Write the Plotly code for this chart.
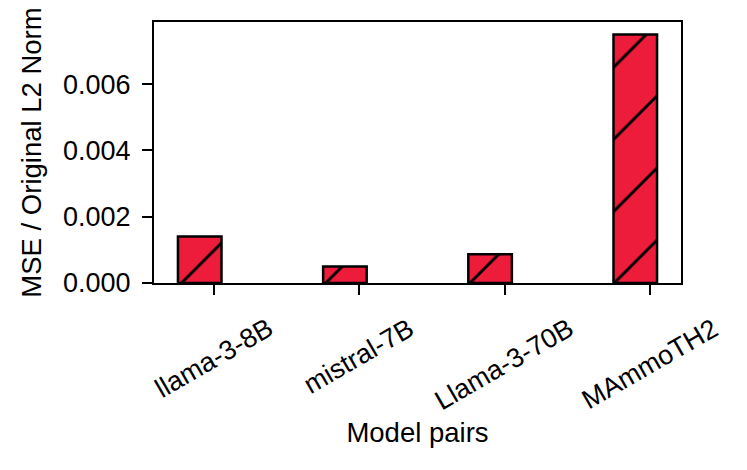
import plotly.graph_objects as go

models = ["llama-3-8B", "mistral-7B", "Llama-3-70B", "MAmmoTH2"]
mse_ratio = [0.0014, 0.0005, 0.00087, 0.0075]
yticks = [0.0, 0.002, 0.004, 0.006]

RED = "#ED1C3A"
FONT = "Liberation Sans, Arial, sans-serif"
FS = 27
FT = 27.5

fig = go.Figure()
fig.add_trace(go.Bar(
    x=models, y=mse_ratio,
    width=0.3, offset=-0.25,
    marker=dict(
        color=RED,
        line=dict(color="black", width=2.5),
        pattern=dict(shape="/", size=51, solidity=0.058,
                     fgcolor="black", bgcolor=RED, fillmode="replace"),
    ),
    showlegend=False,
))

for m in models:
    fig.add_annotation(
        x=m, y=0, xref="x", yref="paper",
        text=m, showarrow=False, textangle=-30,
        xanchor="center", yanchor="top", yshift=-27,
        font=dict(family=FONT, size=FS, color="black"),
    )

fig.update_layout(
    width=747, height=470,
    margin=dict(l=146, r=74, t=14, b=195),
    plot_bgcolor="white", paper_bgcolor="white",
    font=dict(family=FONT, size=FS, color="black"),
    xaxis=dict(
        range=[-0.415, 3.215],
        showticklabels=False,
        ticks="outside", ticklen=10, tickwidth=2, tickcolor="black",
        showline=True, linecolor="black", linewidth=2, mirror=True,
        showgrid=False, zeroline=False,
        title=dict(text="Model pairs", standoff=129, font=dict(size=FT)),
    ),
    yaxis=dict(
        range=[0, 0.007875],
        tickvals=yticks, tickformat=".3f",
        ticks="outside", ticklen=10, tickwidth=2, tickcolor="black",
        ticklabelstandoff=6,
        showline=True, linecolor="black", linewidth=2, mirror=True,
        showgrid=False, zeroline=False,
        tickfont=dict(size=FS),
        title=dict(text="MSE / Original L2 Norm", standoff=13, font=dict(size=FT)),
    ),
)

fig.write_html("out.html")
